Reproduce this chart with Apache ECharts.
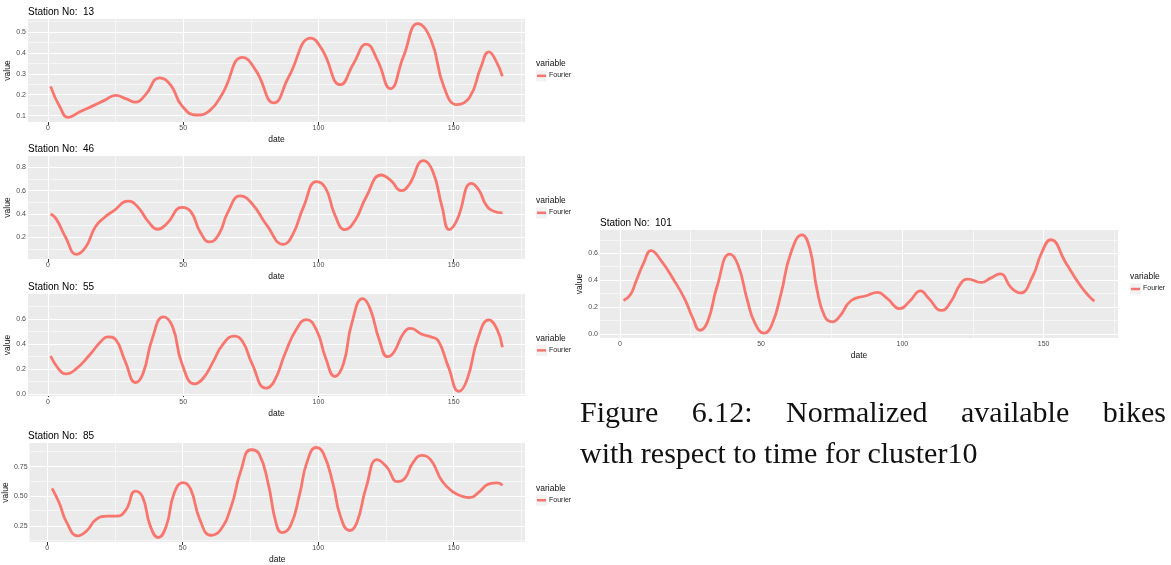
<!DOCTYPE html>
<html>
<head>
<meta charset="utf-8">
<script src="https://cdn.jsdelivr.net/npm/echarts@6/dist/echarts.min.js"></script>
<style>
html, body { margin: 0; background: #fff; }
#chart { width: 1171px; height: 565px; }
</style>
</head>
<body>
<div id="chart"></div>
<script>
// fitted Fourier curves, [hour, normalized bikes]
const station13 = [[1,0.24],[4.5,0.14],[7.5,0.092],[12,0.12],[16.8,0.148],[20.9,0.173],[25,0.197],[29,0.18],[32.5,0.165],[35.9,0.197],[41.3,0.281],[45.4,0.246],[49.5,0.148],[55,0.103],[59.8,0.124],[64.5,0.205],[72,0.379],[76.8,0.318],[83.6,0.161],[89,0.285],[97.3,0.471],[101.4,0.415],[108.2,0.248],[113,0.35],[117.7,0.442],[121.8,0.366],[126.6,0.229],[131.4,0.382],[136.8,0.54],[141.6,0.463],[146.4,0.237],[151.2,0.153],[155.9,0.188],[160,0.33],[163,0.405],[165.7,0.36],[168,0.288]];
const station46 = [[1,0.4],[3,0.36],[6.5,0.203],[10.6,0.054],[14,0.117],[17.5,0.289],[20.9,0.37],[24.3,0.427],[29.7,0.51],[33.2,0.461],[37.2,0.332],[40.6,0.269],[44,0.318],[49.5,0.456],[52.9,0.418],[56.3,0.246],[59.8,0.16],[63.2,0.226],[66.6,0.418],[71.1,0.556],[75.4,0.49],[80.9,0.304],[87,0.14],[90.4,0.218],[94.5,0.461],[99.3,0.677],[102.7,0.619],[106.1,0.39],[109.8,0.266],[113.6,0.347],[117.7,0.548],[123.2,0.734],[126.6,0.691],[130.7,0.6],[133.4,0.648],[138.9,0.857],[142.3,0.763],[145.7,0.461],[148.4,0.266],[151.2,0.347],[156.6,0.662],[159.3,0.605],[162,0.476],[164.8,0.424],[168,0.41]];
const station55 = [[1,0.305],[3.8,0.207],[6.5,0.162],[10,0.194],[15.4,0.313],[19.5,0.419],[22.2,0.459],[25,0.438],[28.4,0.273],[32.5,0.093],[35.2,0.167],[38.6,0.446],[42.7,0.619],[46.1,0.539],[49.5,0.247],[54.3,0.082],[57.4,0.127],[61.1,0.26],[64.5,0.393],[68.9,0.465],[72,0.419],[75.4,0.247],[80.6,0.048],[83.6,0.101],[87.7,0.327],[91.8,0.518],[95.6,0.597],[99.3,0.512],[102.7,0.287],[106.1,0.141],[109.3,0.247],[112.3,0.565],[116.4,0.765],[119.1,0.685],[122.5,0.433],[125.6,0.3],[128,0.34],[131.4,0.486],[134.1,0.526],[138.2,0.48],[141.6,0.459],[144.3,0.427],[148,0.22],[152,0.022],[155,0.12],[159,0.45],[163,0.595],[166,0.52],[168,0.375]];
const station85 = [[1.8,0.567],[4.5,0.441],[7.2,0.28],[11.3,0.167],[14.7,0.212],[18.1,0.306],[22.2,0.333],[25.6,0.333],[29.1,0.387],[32.5,0.543],[35.2,0.495],[38,0.253],[41,0.153],[44,0.253],[46.8,0.522],[50.2,0.616],[52.9,0.562],[56.3,0.306],[60.4,0.172],[63.8,0.212],[67.9,0.414],[71.4,0.71],[75.2,0.892],[78.2,0.857],[81.6,0.602],[84.4,0.28],[86.6,0.194],[89.8,0.253],[93.2,0.522],[95.9,0.79],[99.3,0.911],[102,0.858],[105.5,0.602],[108.2,0.333],[111.6,0.212],[114.3,0.28],[117.7,0.575],[121.8,0.809],[125.2,0.75],[129.3,0.624],[132.1,0.656],[134.8,0.777],[138.2,0.844],[141.6,0.804],[145.7,0.629],[149.9,0.535],[153.2,0.5],[155.9,0.489],[159.3,0.535],[162.8,0.602],[166.2,0.613],[168,0.594]];
const station101 = [[1.3,0.249],[3.7,0.291],[5.7,0.39],[8.4,0.526],[11.1,0.62],[14.4,0.551],[19.1,0.402],[23.1,0.254],[25.8,0.119],[28.4,0.027],[31.1,0.094],[34.4,0.353],[38.9,0.593],[41.8,0.514],[45.1,0.254],[47.8,0.081],[51.1,0.007],[53.8,0.069],[57.1,0.304],[60.5,0.6],[64.5,0.736],[67.2,0.637],[69.8,0.328],[72.5,0.131],[75.2,0.091],[77.8,0.131],[81.8,0.247],[87.2,0.284],[91.2,0.309],[94.5,0.267],[99.2,0.188],[102.5,0.242],[106.5,0.321],[109.2,0.267],[113.9,0.175],[117.2,0.242],[120.6,0.373],[123.2,0.407],[127.9,0.383],[131.2,0.415],[134.6,0.447],[138.6,0.341],[141.7,0.305],[146.1,0.427],[149.2,0.598],[152.5,0.7],[158,0.524],[162.8,0.366],[166.3,0.276],[168,0.244]];

// tick labels and grid breaks
const xTicks = [0, 50, 100, 150];
const xMinor = [25, 75, 125, 175];
const yTicks13 = [0.1, 0.2, 0.3, 0.4, 0.5];
const yMinor13 = [0.15, 0.25, 0.35, 0.45, 0.55];
const yTicks46 = [0.2, 0.4, 0.6, 0.8];
const yMinor46 = [0.1, 0.3, 0.5, 0.7];
const yTicks55 = [0.0, 0.2, 0.4, 0.6];
const yMinor55 = [0.1, 0.3, 0.5, 0.7];
const yTicks85 = [0.25, 0.50, 0.75];
const yMinor85 = [0.125, 0.375, 0.625, 0.875];
const yTicks101 = [0.0, 0.2, 0.4, 0.6];
const yMinor101 = [0.1, 0.3, 0.5, 0.7];

const panels = [
  { station: '13',  data: station13,  yTicks: yTicks13,  yMinor: yMinor13,  dec: 1, left: 28,  top: 19,  width: 497, height: 103, legX: 536 },
  { station: '46',  data: station46,  yTicks: yTicks46,  yMinor: yMinor46,  dec: 1, left: 28,  top: 156, width: 497, height: 103, legX: 536 },
  { station: '55',  data: station55,  yTicks: yTicks55,  yMinor: yMinor55,  dec: 1, left: 28,  top: 294, width: 497, height: 102, legX: 536 },
  { station: '85',  data: station85,  yTicks: yTicks85,  yMinor: yMinor85,  dec: 2, left: 28,  top: 443, width: 497, height: 104, legX: 536 },
  { station: '101', data: station101, yTicks: yTicks101, yMinor: yMinor101, dec: 1, left: 600, top: 230, width: 518, height: 108, legX: 1130 }
];

const RED = '#F8766D';

// ggplot-style 5% expansion of the data range
function expand(vals) {
  const lo = Math.min(...vals), hi = Math.max(...vals);
  const d = (hi - lo) * 0.05;
  return [lo - d, hi + d];
}

const chart = echarts.init(document.getElementById('chart'));

const grid = [], xAxis = [], yAxis = [], series = [], title = [], graphic = [];

panels.forEach(function (p, i) {
  const xr = expand(p.data.map(d => d[0]));
  const yr = expand(p.data.map(d => d[1]));
  grid.push({ left: p.left, top: p.top, width: p.width, height: p.height,
    show: true, backgroundColor: '#EBEBEB', borderWidth: 0 });
  xAxis.push({
    gridIndex: i, type: 'value', min: xr[0], max: xr[1],
    axisLine: { show: false }, splitLine: { show: false },
    axisTick: { show: true, length: 3, customValues: xTicks, lineStyle: { color: '#333' } },
    axisLabel: { customValues: xTicks, color: '#4D4D4D', fontSize: 7, margin: 3, fontFamily: 'Liberation Sans' },
    name: 'date', nameLocation: 'middle', nameGap: 13,
    nameTextStyle: { color: '#111', fontSize: 8.5, fontFamily: 'Liberation Sans' }
  });
  yAxis.push({
    gridIndex: i, type: 'value', min: yr[0], max: yr[1],
    axisLine: { show: false }, splitLine: { show: false },
    axisTick: { show: true, length: 3, customValues: p.yTicks, lineStyle: { color: '#333' } },
    axisLabel: { customValues: p.yTicks, color: '#4D4D4D', fontSize: 7, margin: 2,
      fontFamily: 'Liberation Sans', formatter: v => v.toFixed(p.dec) },
    name: 'value', nameLocation: 'middle', nameGap: 12,
    nameTextStyle: { color: '#111', fontSize: 8.5, fontFamily: 'Liberation Sans' }
  });
  // panel grid lines, kept under the curve
  const lines = [];
  p.yTicks.forEach(v => lines.push({ yAxis: v, lineStyle: { width: 1.1 } }));
  p.yMinor.forEach(v => { if (v > yr[0] && v < yr[1]) lines.push({ yAxis: v, lineStyle: { width: 0.55 } }); });
  xTicks.forEach(v => lines.push({ xAxis: v, lineStyle: { width: 1.1 } }));
  xMinor.forEach(v => { if (v > xr[0] && v < xr[1]) lines.push({ xAxis: v, lineStyle: { width: 0.55 } }); });
  series.push({
    type: 'line', xAxisIndex: i, yAxisIndex: i, data: [], z: 1, silent: true,
    markLine: { z: 1, silent: true, symbol: ['none', 'none'], label: { show: false }, animation: false,
      lineStyle: { color: '#FFFFFF', type: 'solid', opacity: 1 }, emphasis: { disabled: true }, data: lines }
  });
  series.push({
    name: 'Fourier', type: 'line', xAxisIndex: i, yAxisIndex: i, data: p.data, z: 10,
    smooth: 0.5, showSymbol: false, silent: true,
    lineStyle: { color: RED, width: 2.8 }
  });
  title.push({ text: 'Station No:  ' + p.station, left: p.left, top: p.top - 12,
    padding: 0, textStyle: { fontSize: 10, fontWeight: 'normal', color: '#000', fontFamily: 'Liberation Sans' } });
  // legend block
  const vy = p.top + p.height * 0.44;
  graphic.push({ type: 'text', left: p.legX, top: vy - 5,
    style: { text: 'variable', fontSize: 8.5, fill: '#111', fontFamily: 'Liberation Sans' } });
  graphic.push({ type: 'rect', shape: { x: p.legX, y: vy + 6, width: 11, height: 11 },
    style: { fill: '#F2F2F2' } });
  graphic.push({ type: 'line', shape: { x1: p.legX + 1, y1: vy + 11.5, x2: p.legX + 10, y2: vy + 11.5 },
    style: { stroke: RED, lineWidth: 2.5 } });
  graphic.push({ type: 'text', left: p.legX + 13, top: vy + 7.5,
    style: { text: 'Fourier', fontSize: 7, fill: '#222', fontFamily: 'Liberation Sans' } });
});

// caption, first line justified like the LaTeX source
const capFont = '30px "Liberation Serif"';
const row1 = ['Figure', '6.12:', 'Normalized', 'available', 'bikes'];
const row2 = 'with respect to time for cluster10';
const ctx = document.createElement('canvas').getContext('2d');
ctx.font = capFont;
const widths = row1.map(w => ctx.measureText(w).width);
const x0 = 580, x1 = 1166;
const gap = (x1 - x0 - widths.reduce((a, b) => a + b, 0)) / (row1.length - 1);
let cx = x0;
row1.forEach(function (w, k) {
  graphic.push({ type: 'text', x: cx, y: 414,
    style: { text: w, font: capFont, fill: '#111', verticalAlign: 'middle' } });
  cx += widths[k] + gap;
});
graphic.push({ type: 'text', x: x0, y: 455,
  style: { text: row2, font: capFont, fill: '#111', verticalAlign: 'middle' } });

chart.setOption({
  animation: false,
  grid: grid, xAxis: xAxis, yAxis: yAxis, series: series, title: title, graphic: graphic
});
window.addEventListener('resize', function () { chart.resize(); });
</script>
</body>
</html>
